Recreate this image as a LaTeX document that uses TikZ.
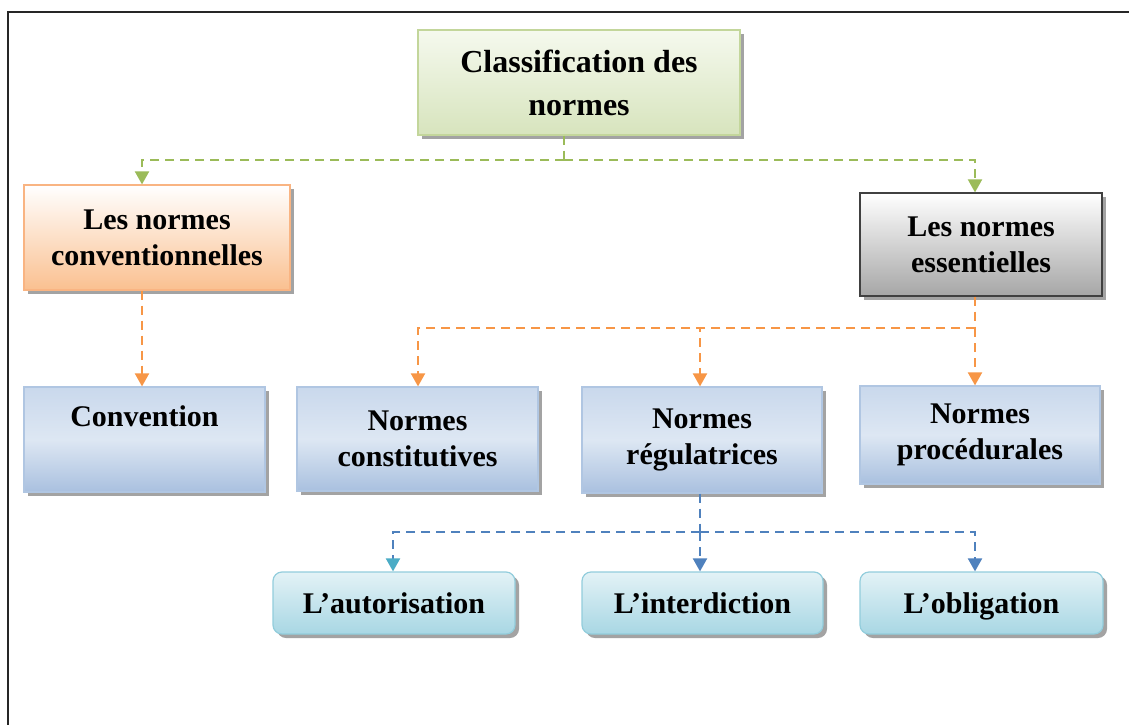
\documentclass[tikz,border=0pt]{standalone}
\usepackage{fontspec}
\setmainfont{Liberation Serif}
\usetikzlibrary{arrows.meta,shadows}
\definecolor{grnB}{HTML}{C3D69B}\definecolor{grnT}{HTML}{F5F9EE}\definecolor{grnD}{HTML}{D7E4BD}
\definecolor{orB}{HTML}{F9B482}\definecolor{orD}{HTML}{FAC090}
\definecolor{gyB}{HTML}{404040}\definecolor{gyD}{HTML}{A6A6A6}
\definecolor{blB}{HTML}{B0C6E2}\definecolor{blT}{HTML}{C9D8EC}\definecolor{blM}{HTML}{DDE7F3}\definecolor{blD}{HTML}{A9C0DF}
\definecolor{cyB}{HTML}{92CDDC}\definecolor{cyT}{HTML}{E3F2F6}\definecolor{cyD}{HTML}{A8D7E4}
\definecolor{lnG}{HTML}{9BBB59}\definecolor{lnO}{HTML}{F79646}\definecolor{lnB}{HTML}{4F81BD}\definecolor{lnC}{HTML}{4BACC6}
\tikzset{
  basebox/.style={draw, line width=1.2pt, align=center, inner sep=0pt,
    font=\fontsize{30}{36}\selectfont\bfseries,
    drop shadow={shadow xshift=4pt, shadow yshift=-4pt, fill=black!45, opacity=0.8}},
  grnbox/.style={basebox, draw=grnB, top color=grnT, bottom color=grnD, font=\fontsize{32}{43}\selectfont\bfseries},
  orbox/.style={basebox, draw=orB, top color=white, bottom color=orD},
  gybox/.style={basebox, draw=gyB, top color=white, bottom color=gyD},
  blbox/.style={basebox, draw=blB, top color=blT, bottom color=blD, middle color=blM},
  cybox/.style={basebox, draw=cyB, top color=cyT, bottom color=cyD, rounded corners=9pt, text height=24pt, text depth=4pt},
  conn/.style={line width=2pt, dash pattern=on 9pt off 6pt, -{Triangle[width=14pt,length=13pt]}},
  seg/.style={line width=2pt, dash pattern=on 9pt off 6pt},
}
\begin{document}
\begin{tikzpicture}[x=1pt,y=-1pt]
\useasboundingbox (0,0) rectangle (1129,725);
\fill[white] (0,0) rectangle (1129,725);
\draw[line width=2pt, black!85] (8,725) -- (8,12) -- (1129,12);

\node[grnbox, minimum width=322pt, minimum height=105pt] (top) at (579,82.5) {Classification des\\normes};
\node[orbox, minimum width=266pt, minimum height=105pt] (conv) at (157,237.5) {Les normes\\conventionnelles};
\node[gybox, minimum width=242pt, minimum height=103pt] (ess) at (981,244.5) {Les normes\\essentielles};

\node[blbox, minimum width=241pt, minimum height=105pt] (cvt) at (144.5,439.5) {Convention\\\strut};
\node[blbox, minimum width=241pt, minimum height=104pt] (cst) at (417.5,439) {Normes\\constitutives};
\node[blbox, minimum width=240pt, minimum height=106pt] (reg) at (702,440) {Normes\\régulatrices};
\node[blbox, minimum width=240pt, minimum height=98pt] (pro) at (980,435) {Normes\\procédurales};

\node[cybox, minimum width=242pt, minimum height=62pt] (aut) at (394,603) {L’autorisation};
\node[cybox, minimum width=241pt, minimum height=62pt] (int) at (702.5,603) {L’interdiction};
\node[cybox, minimum width=243pt, minimum height=62pt] (obl) at (981.5,603) {L’obligation};

% green
\coordinate (g0) at ([xshift=-15pt]top.south);
\coordinate (g1) at (564,160);
\draw[seg, lnG] (g0) -- (g1);
\draw[conn, lnG] (g1) -| ([xshift=-15pt]conv.north);
\draw[conn, lnG] (g1) -| ([xshift=-6pt]ess.north);

% orange
\draw[conn, lnO] ([xshift=-15pt]conv.south) -- ([xshift=-2.5pt]cvt.north);
\coordinate (o1) at (975,328);
\draw[seg, lnO] ([xshift=-6pt]ess.south) -- (o1);
\draw[conn, lnO] (o1) -| ([xshift=0.5pt]cst.north);
\draw[conn, lnO] (o1) -| ([xshift=-2pt]reg.north);
\draw[conn, lnO] (o1) -- ([xshift=-5pt]pro.north);

% blue
\coordinate (b1) at (700,532);
\draw[seg, lnB] ([xshift=-2pt]reg.south) -- (b1);
\draw[lnB, line width=2pt, dash pattern=on 9pt off 6pt, -{Triangle[width=14pt,length=13pt,color=lnC,fill=lnC]}] (b1) -| ([xshift=-1pt]aut.north);
\draw[conn, lnB] (b1) -- ([xshift=-2.5pt]int.north);
\draw[conn, lnB] (b1) -| ([xshift=-6.5pt]obl.north);
\end{tikzpicture}
\end{document}
